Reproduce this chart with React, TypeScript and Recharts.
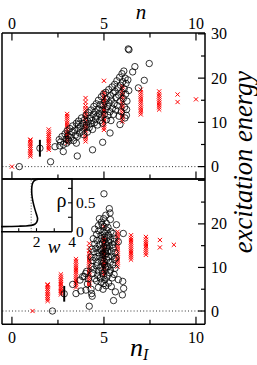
import React from "react";
import { ScatterChart, Scatter, XAxis, YAxis, ReferenceLine, ErrorBar, LineChart, Line } from "recharts";

const FONT = "'Liberation Serif', 'Times New Roman', serif";

// red cross columns: energies of each column
const redColumns: number[][] = [
  [0],
  [2.3, 2.7, 3.1, 3.5, 3.9, 4.3, 4.7, 5.1, 5.5, 5.9, 6.1],
  [3.8, 4.2, 4.6, 5.0, 5.4, 5.8, 6.2, 6.6, 7.0, 7.4, 7.9, 8.4],
  [5.4, 5.9, 6.4, 6.9, 7.4, 7.9, 8.4, 8.9, 9.4, 9.9, 10.4, 10.9, 11.4, 11.9],
  [5.7, 6.2, 6.7, 7.2, 7.7, 8.2, 8.7, 9.2, 9.7, 10.2, 10.7, 11.2, 11.7, 12.2, 12.7, 13.2, 13.8, 14.6, 15.5],
  [8.3, 8.8, 9.3, 9.8, 10.3, 10.8, 11.3, 11.8, 12.3, 12.8, 13.3, 13.8, 14.3, 14.8, 15.3, 15.8, 16.3, 16.8, 19.4],
  [10.2, 10.7, 11.2, 11.7, 12.2, 12.7, 13.2, 13.7, 14.2, 14.7, 15.2, 15.7, 16.2, 16.7, 17.2, 17.7, 18.2],
  [11.8, 12.3, 12.8, 13.3, 13.8, 14.3, 14.8, 15.3, 15.8, 16.3, 16.8, 17.4],
  [12.9, 13.4, 13.9, 14.4, 14.9, 15.4, 15.9, 16.4, 17.0],
  [14.6, 16.3],
  [15.2],
];
const redTopN = [0, 1, 2, 3, 4, 5, 6, 7, 8, 9, 10];
const redBottomN = [1.12, 1.94, 2.66, 3.48, 4.2, 5.0, 5.74, 6.47, 7.28, 8.04, 8.8];

const topCircles: [number, number][] = [
  [0.4, 0], [2.1, 1.1], [2.34, 4.5], [2.57, 6.1], [2.6, 4.7], [2.79, 3.4], [2.97, 5.3], [3.06, 6.1],
  [3.5, 5.3], [3.55, 2.4], [3.6, 9.5], [4.38, 3.8], [4.93, 5.5], [5.33, 7.6], [5.87, 9.5], [6.14, 11.0],
  [6.23, 12.9], [6.32, 26.6], [6.36, 26.4], [6.68, 22.6], [7.46, 23.3], [6.56, 21.4], [7.19, 19.5], [6.87, 17.8],
  [2.65, 5.6], [2.72, 6.8], [2.8, 5.0], [2.88, 7.4], [2.95, 6.2], [3.0, 8.1],
  [3.05, 7.0], [3.1, 5.8], [3.15, 8.6], [3.2, 6.6], [3.26, 7.8], [3.3, 9.2], [3.35, 5.9], [3.4, 8.2], [3.45, 7.1], [3.5, 9.8],
  [3.55, 6.8], [3.6, 8.6], [3.62, 10.3], [3.68, 7.6], [3.72, 9.1], [3.78, 11.0], [3.82, 8.0], [3.86, 9.8], [3.9, 7.2], [3.94, 10.6], [3.98, 8.8],
  [4.02, 11.6], [4.05, 9.4], [4.1, 7.8], [4.12, 10.3], [4.16, 12.2], [4.2, 8.8], [4.24, 11.0], [4.28, 9.7], [4.3, 12.8], [4.34, 10.4], [4.38, 8.4], [4.42, 11.8], [4.45, 13.6], [4.48, 9.9],
  [4.52, 12.4], [4.55, 10.8], [4.58, 14.2], [4.62, 11.4], [4.65, 9.4], [4.68, 13.0], [4.7, 15.0], [4.74, 12.0], [4.78, 10.4], [4.8, 14.0], [4.84, 11.2], [4.86, 15.8], [4.9, 12.8], [4.92, 9.8], [4.96, 13.8], [4.98, 16.4],
  [5.02, 11.8], [5.05, 14.6], [5.08, 12.9], [5.1, 16.8], [5.14, 10.6], [5.16, 15.3], [5.2, 13.6], [5.22, 11.6], [5.26, 17.4], [5.28, 14.4], [5.32, 12.4], [5.35, 16.0], [5.38, 10.4], [5.4, 15.0], [5.44, 18.0], [5.46, 13.2], [5.5, 16.6],
  [5.52, 11.8], [5.55, 14.2], [5.58, 18.6], [5.6, 17.0], [5.64, 12.8], [5.66, 15.6], [5.7, 19.4], [5.72, 13.8], [5.76, 17.8], [5.8, 16.2], [5.82, 11.4], [5.85, 20.2], [5.88, 14.8], [5.9, 18.4], [5.94, 12.4], [5.96, 16.8], [5.98, 21.0],
  [6.02, 19.2], [6.05, 15.4], [6.08, 21.6], [6.1, 17.6], [6.12, 13.4], [6.15, 20.0], [6.18, 16.4], [6.2, 18.8], [6.22, 11.6], [6.25, 14.8], [6.3, 19.6], [6.35, 17.2],
];

const bottomCircles: [number, number][] = [
  [2.2, 0], [3.3, 6.1], [3.48, 4.0], [3.75, 4.6], [4.02, 4.8], [4.3, 5.0], [4.33, 4.0], [4.2, 1.1], [3.7, 7.1], [3.93, 7.9],
  [4.06, 9.1], [3.84, 7.9], [4.0, 8.6], [4.1, 6.2], [4.15, 7.4], [4.36, 3.4],
  [5.78, 7.2], [6.02, 6.8], [6.07, 5.2], [6.0, 3.7], [5.52, 2.4], [5.62, 4.4],
  [5.0, 26.9], [5.29, 23.5], [5.33, 22.5], [4.75, 21.2], [5.35, 21.0], [4.9, 19.8], [5.68, 19.8], [6.05, 17.8], [5.56, 16.7], [5.78, 15.9],
  [4.7, 5.4], [4.95, 5.0], [5.1, 5.8], [5.25, 6.4], [4.85, 6.6], [5.4, 5.6], [4.6, 6.9], [5.0, 6.3],
  [4.5, 7.4], [4.65, 8.2], [4.8, 7.6], [4.92, 8.6], [5.05, 7.2], [5.18, 8.0], [5.3, 8.8], [5.45, 7.6], [4.4, 8.6], [5.55, 8.4], [4.98, 8.0],
  [4.45, 9.6], [4.58, 10.4], [4.7, 9.2], [4.82, 10.0], [4.9, 9.4], [5.02, 10.6], [5.12, 9.6], [5.22, 10.2], [5.35, 9.4], [5.48, 10.6], [4.35, 10.2], [5.6, 9.8], [4.96, 11.0], [5.08, 10.0],
  [4.4, 11.6], [4.52, 12.2], [4.62, 11.2], [4.74, 12.6], [4.86, 11.6], [4.94, 12.2], [5.0, 11.4], [5.06, 12.8], [5.14, 11.8], [5.24, 12.4], [5.34, 11.2], [5.44, 12.6], [5.56, 11.8], [4.3, 12.4], [5.65, 12.2], [4.9, 13.0], [5.1, 13.2],
  [4.45, 13.6], [4.56, 14.4], [4.68, 13.4], [4.8, 14.2], [4.88, 13.8], [4.98, 14.6], [5.04, 13.6], [5.12, 14.4], [5.2, 13.8], [5.3, 14.8], [5.4, 13.6], [5.5, 14.4], [4.35, 14.2], [5.6, 13.4], [4.95, 13.2], [5.16, 15.0],
  [4.5, 15.4], [4.62, 16.2], [4.74, 15.2], [4.84, 16.6], [4.92, 15.6], [5.0, 16.2], [5.08, 15.4], [5.16, 16.8], [5.26, 15.8], [5.36, 16.4], [5.46, 15.2], [4.42, 16.6], [5.55, 16.0], [5.02, 17.0],
  [4.6, 17.6], [4.72, 18.4], [4.84, 17.4], [4.95, 18.2], [5.05, 17.8], [5.15, 18.6], [5.25, 17.4], [5.38, 18.2], [4.5, 18.8], [5.5, 17.8],
  [4.7, 19.6], [4.86, 20.4], [5.0, 19.4], [5.12, 20.2], [5.22, 19.2], [4.98, 21.2], [5.1, 22.0],
];

// points with error bars: [n, E, err]
const topErrPoint: [number, number, number][] = [[1.52, 4.15, 1.9]];
const bottomErrPoint: [number, number, number][] = [[2.84, 3.95, 1.8]];

// inset curve rho(w)
const insetW = [0, 0.5, 1.0, 1.4, 1.7, 1.9, 2.02, 2.06, 2.0, 1.9, 1.8, 1.74, 1.73, 1.76, 1.86, 2.1, 2.6, 3.2, 4.0];
const insetRho = [0.088, 0.09, 0.095, 0.1, 0.11, 0.13, 0.17, 0.23, 0.3, 0.4, 0.52, 0.64, 0.74, 0.82, 0.88, 0.91, 0.918, 0.92, 0.922];

const xTicks = [0, 2.5, 5, 7.5, 10];
const yTicks = [0, 5, 10, 15, 20, 25, 30];
const insetXTicks = [0, 1, 2, 3, 4];
const insetYTicks = [0, 0.25, 0.5, 0.75];

const buildRed = (xs: number[]) =>
  redColumns.flatMap((col, i) => col.map((e) => ({ x: xs[i], y: e })));
const topRed = buildRed(redTopN);
const bottomRed = buildRed(redBottomN);
const topCirc = topCircles.map(([x, y]) => ({ x, y }));
const bottomCirc = bottomCircles.map(([x, y]) => ({ x, y }));
const topErr = topErrPoint.map(([x, y, err]) => ({ x, y, err }));
const bottomErr = bottomErrPoint.map(([x, y, err]) => ({ x, y, err }));
const insetData = insetW.map((w, i) => ({ w, rho: insetRho[i] }));

// layout constants
const W = 257, H = 365;
const PL = 2, PR = 205;
const T_TOP = 33, T_BOT = 179;
const B_TOP = 179, B_BOT = 324.3;
const XDOM: [number, number] = [-0.54, 10.49];
const IN_R = 72, IN_B = 231.7;
const AXS = 1; // axis thickness reserved

const AX = { stroke: "#000", strokeWidth: 1.5 };

const XMark = (p: any) => {
  const { cx, cy } = p;
  const s = 2.1;
  return (
    <path
      d={`M${cx - s},${cy - s}L${cx + s},${cy + s}M${cx - s},${cy + s}L${cx + s},${cy - s}`}
      stroke="#ff0000"
      strokeWidth={1}
      fill="none"
    />
  );
};
const Circ = (p: any) => (
  <circle cx={p.cx} cy={p.cy} r={3.2} fill="none" stroke="#000" strokeWidth={0.8} />
);

const makeXTick = (edge: number, dir: number, labelY: number | null) => (p: any) => {
  const v = p.payload.value;
  const major = v % 5 === 0;
  const len = major ? 7.5 : 4.5;
  return (
    <g>
      <line x1={p.x} x2={p.x} y1={edge} y2={edge + dir * len} stroke="#000" strokeWidth={1.2} />
      {labelY !== null && major ? (
        <text x={p.x} y={labelY} textAnchor="middle" fontSize={16} fontFamily={FONT} fill="#000">
          {v}
        </text>
      ) : null}
    </g>
  );
};

const makeYTick = (showTop: boolean) => (p: any) => {
  const v = p.payload.value;
  const major = v % 10 === 0;
  const len = major ? 7 : 4;
  const show = major && (showTop || v !== 30);
  return (
    <g>
      <line x1={PR} x2={PR - len} y1={p.y} y2={p.y} stroke="#000" strokeWidth={1.2} />
      {show ? (
        <text x={211} y={p.y + 5.5} textAnchor="start" fontSize={16} fontFamily={FONT} fill="#000">
          {v}
        </text>
      ) : null}
    </g>
  );
};

const insetXTick = (p: any) => {
  const v = p.payload.value;
  return (
    <g>
      {v > 0 && v < 4 ? (
        <line x1={p.x} x2={p.x} y1={IN_B} y2={IN_B - 3.5} stroke="#000" strokeWidth={1.1} />
      ) : null}
      {v === 2 || v === 4 ? (
        <text x={p.x} y={247} textAnchor="middle" fontSize={15.5} fontFamily={FONT} fill="#000">
          {v}
        </text>
      ) : null}
    </g>
  );
};

const insetYTick = (p: any) => {
  const v = p.payload.value;
  return (
    <g>
      {v > 0 ? (
        <line x1={IN_R} x2={IN_R - 4} y1={p.y} y2={p.y} stroke="#000" strokeWidth={1.1} />
      ) : null}
      {v === 0 || v === 0.5 ? (
        <text x={76} y={p.y + 5.5} textAnchor="start" fontSize={15.5} fontFamily={FONT} fill="#000">
          {v}
        </text>
      ) : null}
    </g>
  );
};

const Panel = (props: {
  top: number;
  bottom: number;
  yDom: [number, number];
  red: any[];
  circ: any[];
  err: any[];
  topLabels: boolean;
  bottomLabels: boolean;
  showTopY: boolean;
  topTicks: boolean;
}) => {
  const { top, bottom, yDom } = props;
  return (
    <ScatterChart
      width={W}
      height={H}
      margin={{ top: top - AXS, right: W - PR - AXS, bottom: H - bottom - AXS, left: PL - AXS }}
      style={{ position: "absolute", left: 0, top: 0 }}
    >
      <XAxis
        xAxisId="t"
        orientation="top"
        type="number"
        dataKey="x"
        domain={XDOM}
        allowDataOverflow
        ticks={xTicks}
        interval={0}
        height={AXS}
        axisLine={AX}
        tickLine={false}
        tick={props.topTicks ? makeXTick(top, 1, props.topLabels ? 29 : null) : false}
      />
      <XAxis
        xAxisId="b"
        orientation="bottom"
        type="number"
        dataKey="x"
        domain={XDOM}
        allowDataOverflow
        ticks={xTicks}
        interval={0}
        height={AXS}
        axisLine={AX}
        tickLine={false}
        tick={makeXTick(bottom, -1, props.bottomLabels ? 343 : null)}
      />
      <YAxis
        yAxisId="l"
        orientation="left"
        type="number"
        dataKey="y"
        domain={yDom}
        allowDataOverflow
        width={AXS}
        axisLine={AX}
        tickLine={false}
        tick={false}
      />
      <YAxis
        yAxisId="r"
        orientation="right"
        type="number"
        dataKey="y"
        domain={yDom}
        allowDataOverflow
        ticks={yTicks}
        interval={0}
        width={AXS}
        axisLine={AX}
        tickLine={false}
        tick={makeYTick(props.showTopY)}
      />
      <ReferenceLine xAxisId="t" yAxisId="r" y={0} stroke="#333" strokeWidth={1} strokeDasharray="1 2.2" />
      <Scatter xAxisId="t" yAxisId="r" data={props.red} shape={XMark} isAnimationActive={false} />
      <Scatter xAxisId="t" yAxisId="r" data={props.circ} shape={Circ} isAnimationActive={false} />
      <Scatter xAxisId="t" yAxisId="r" data={props.err} shape={Circ} isAnimationActive={false}>
        <ErrorBar dataKey="err" direction="y" width={0} stroke="#000" strokeWidth={2} isAnimationActive={false} />
      </Scatter>
    </ScatterChart>
  );
};

export default function App() {
  return (
    <div style={{ position: "absolute", left: 0, top: 0, width: W, height: H, background: "#fff", overflow: "hidden" }}>
      <Panel
        top={T_TOP}
        bottom={T_BOT}
        yDom={[-2.8, 30.2]}
        red={topRed}
        circ={topCirc}
        err={topErr}
        topLabels={true}
        bottomLabels={false}
        showTopY={true}
        topTicks={true}
      />
      <Panel
        top={B_TOP}
        bottom={B_BOT}
        yDom={[-3.05, 30.3]}
        red={bottomRed}
        circ={bottomCirc}
        err={bottomErr}
        topLabels={false}
        bottomLabels={true}
        showTopY={false}
        topTicks={false}
      />
      <LineChart
        width={W}
        height={H}
        data={insetData}
        margin={{ top: B_TOP - AXS, right: W - IN_R - AXS, bottom: H - IN_B - AXS, left: PL - AXS }}
        style={{ position: "absolute", left: 0, top: 0 }}
      >
        <XAxis
          dataKey="w"
          type="number"
          domain={[0, 4]}
          allowDataOverflow
          ticks={insetXTicks}
          interval={0}
          height={AXS}
          axisLine={AX}
          tickLine={false}
          tick={insetXTick}
        />
        <YAxis
          orientation="right"
          type="number"
          domain={[0, 0.93]}
          allowDataOverflow
          ticks={insetYTicks}
          interval={0}
          width={AXS}
          axisLine={AX}
          tickLine={false}
          tick={insetYTick}
        />
        <ReferenceLine x={1.7} stroke="#555" strokeWidth={1} strokeDasharray="1 1.8" />
        <Line
          dataKey="rho"
          type="natural"
          stroke="#000"
          strokeWidth={1.6}
          dot={false}
          isAnimationActive={false}
        />
      </LineChart>
      <svg width={W} height={H} style={{ position: "absolute", left: 0, top: 0, pointerEvents: "none" }}>
        <text x={141} y={18.5} textAnchor="middle" fontSize={21} fontStyle="italic" fontFamily={FONT} fill="#000">
          n
        </text>
        <text x={130} y={356} textAnchor="start" fontSize={26} fontStyle="italic" fontFamily={FONT} fill="#000">
          n
          <tspan fontSize={16} dy={4}>I</tspan>
        </text>
        <text
          x={251.5}
          y={162}
          transform="rotate(-90 251.5 162)"
          textAnchor="middle"
          fontSize={26.5}
          fontStyle="italic"
          fontFamily={FONT}
          fill="#000"
        >
          excitation energy
        </text>
        <text x={61.5} y={206.5} textAnchor="middle" fontSize={20} fontFamily={FONT} fill="#000">
          ρ
        </text>
        <text x={54} y={253} textAnchor="middle" fontSize={19} fontStyle="italic" fontFamily={FONT} fill="#000">
          w
        </text>
      </svg>
    </div>
  );
}
